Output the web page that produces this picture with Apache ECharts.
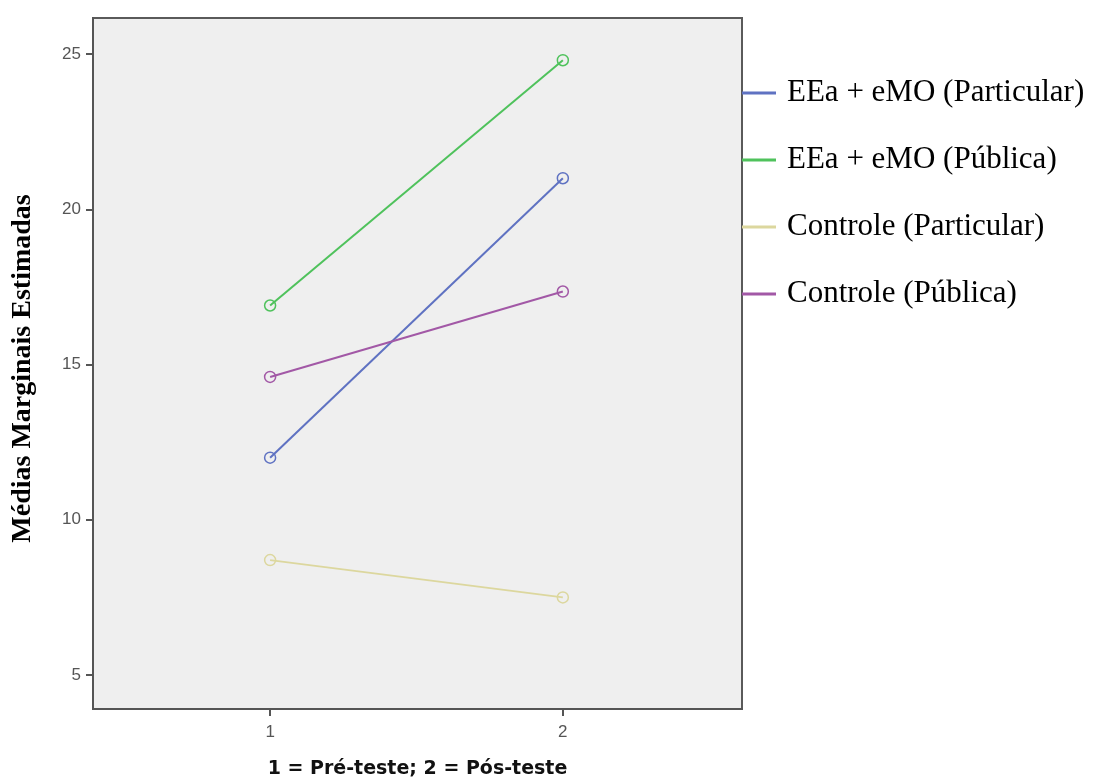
<!DOCTYPE html>
<html>
<head>
<meta charset="utf-8">
<script src="https://cdn.jsdelivr.net/npm/echarts@6/dist/echarts.min.js"></script>
<style>html,body{margin:0;padding:0;background:#fff;}#c{width:1095px;height:778px;}</style>
</head>
<body>
<div id="c"></div>
<script>
const xValues = [1, 2];
const tickLabelsY = [5, 10, 15, 20, 25];
const tickLabelsX = [1, 2];
const seriesNames = ['EEa + eMO (Particular)', 'EEa + eMO (Pública)', 'Controle (Particular)', 'Controle (Pública)'];
const eeaParticular = [12.0, 21.0];
const eeaPublica = [16.9, 24.8];
const controleParticular = [8.7, 7.5];
const controlePublica = [14.6, 17.35];
const colors = ['#5f72c2', '#4fc25c', '#dcd79e', '#a258a6'];

const allData = [eeaParticular, eeaPublica, controleParticular, controlePublica];
const chart = echarts.init(document.getElementById('c'), null, {renderer: 'canvas'});
chart.setOption({
  animation: false,
  backgroundColor: '#ffffff',
  grid: {
    left: 93, top: 18, width: 649, height: 691,
    outerBoundsMode: 'none',
    containLabel: false,
    show: true, backgroundColor: '#efefef', borderColor: '#5a5a5a', borderWidth: 2
  },
  legend: {
    orient: 'vertical',
    left: 742, top: 76,
    padding: 0,
    itemGap: 33,
    icon: 'rect',
    itemWidth: 34, itemHeight: 3,
    data: seriesNames.map((n, i) => ({name: n, itemStyle: {color: colors[i], borderWidth: 0}})),
    textStyle: {
      fontFamily: 'Liberation Serif, Times New Roman, serif',
      fontSize: 31, color: '#000', lineHeight: 34,
      padding: [0, 0, 0, 6]
    }
  },
  xAxis: {
    type: 'value',
    min: 0.395, max: 2.612,
    name: '1 = Pré-teste; 2 = Pós-teste',
    nameLocation: 'middle',
    nameGap: 51,
    nameTextStyle: {fontFamily: 'DejaVu Sans, Verdana, sans-serif', fontWeight: 'bold', fontSize: 19, color: '#111'},
    axisLine: {show: true, onZero: false, lineStyle: {color: '#555', width: 2}},
    axisTick: {show: true, length: 7, customValues: tickLabelsX, lineStyle: {color: '#555', width: 2}},
    axisLabel: {customValues: tickLabelsX, color: '#555', fontSize: 17, fontFamily: 'Liberation Sans, Arial, sans-serif', margin: 15},
    splitLine: {show: false}
  },
  yAxis: {
    type: 'value',
    min: 3.905, max: 26.16,
    name: 'Médias Marginais Estimadas',
    nameLocation: 'middle',
    nameGap: 56,
    nameTextStyle: {fontFamily: 'Liberation Serif, Times New Roman, serif', fontWeight: 'bold', fontSize: 28, color: '#000', padding: [0, 10, 0, 0]},
    axisLine: {show: true, onZero: false, lineStyle: {color: '#555', width: 2}},
    axisTick: {show: true, length: 7, customValues: tickLabelsY, lineStyle: {color: '#555', width: 2}},
    axisLabel: {customValues: tickLabelsY, color: '#555', fontSize: 17, fontFamily: 'Liberation Sans, Arial, sans-serif', margin: 12},
    splitLine: {show: false}
  },
  series: seriesNames.map((n, i) => ({
    name: n,
    type: 'line',
    data: xValues.map((x, j) => [x, allData[i][j]]),
    symbol: 'circle',
    symbolSize: 11,
    showAllSymbol: true,
    lineStyle: {color: colors[i], width: 2},
    itemStyle: {color: 'rgba(0,0,0,0)', borderColor: colors[i], borderWidth: 1.5},
    emphasis: {disabled: true}
  }))
});
</script>
</body>
</html>
